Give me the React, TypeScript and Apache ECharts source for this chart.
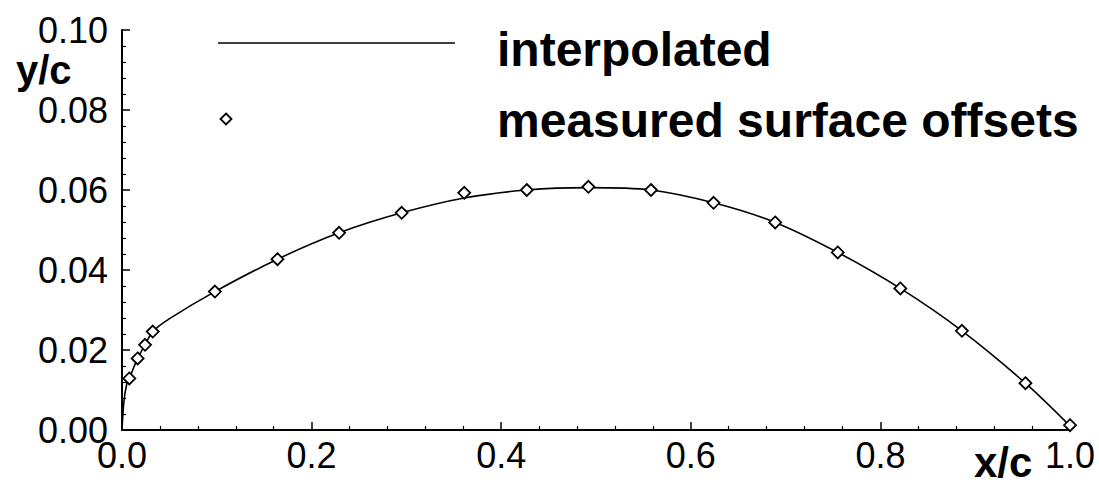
import React, { useEffect, useRef } from "react";
import * as echarts from "echarts";

// measured surface offsets (x/c, y/c)
const measuredX = [0.0077, 0.0165, 0.0243, 0.0324, 0.098, 0.164, 0.229, 0.295, 0.361, 0.427, 0.492, 0.558, 0.624, 0.689, 0.755, 0.821, 0.886, 0.953, 1.0];
const measuredY = [0.0129, 0.0179, 0.0213, 0.0246, 0.0346, 0.0427, 0.0493, 0.0543, 0.0593, 0.06, 0.0608, 0.06, 0.0568, 0.0519, 0.0444, 0.0354, 0.0248, 0.0117, 0.0012];

// interpolated curve
const curveX = [0, 0.002, 0.005, 0.0077, 0.0165, 0.0243, 0.0324, 0.0506, 0.098, 0.164, 0.229, 0.295, 0.361, 0.427, 0.492, 0.558, 0.624, 0.689, 0.755, 0.821, 0.886, 0.953, 1.0];
const curveY = [0, 0.007, 0.0115, 0.0129, 0.0179, 0.0213, 0.0246, 0.0279, 0.0346, 0.0427, 0.0493, 0.0543, 0.058, 0.06, 0.0606, 0.06, 0.0568, 0.0519, 0.0444, 0.0354, 0.0248, 0.0117, 0.001];

const xTickLabels = ["0.0", "0.2", "0.4", "0.6", "0.8", "1.0"];
const yTickLabels = ["0.00", "0.02", "0.04", "0.06", "0.08", "0.10"];
const legendNames = ["interpolated", "measured surface offsets"];
const axisNames = ["x/c", "y/c"];

const FONT = "'Liberation Sans', Arial, Helvetica, sans-serif";

export default function App() {
  const ref = useRef<HTMLDivElement>(null);
  useEffect(() => {
    if (!ref.current) return;
    const chart = echarts.init(ref.current, null, { renderer: "svg" });
    const axisCommon = {
      axisLine: { show: true, lineStyle: { color: "#000", width: 2 } },
      axisTick: { show: true, inside: true, length: 8, lineStyle: { color: "#000", width: 1.5 } },
      minorTick: { show: true, splitNumber: 5, length: 4, lineStyle: { color: "#000", width: 1.2 } },
      splitLine: { show: false },
      minorSplitLine: { show: false },
    };
    chart.setOption({
      animation: false,
      backgroundColor: "#fff",
      grid: { left: 122, right: 29, top: 30, bottom: 54 },
      xAxis: {
        type: "value",
        min: 0,
        max: 1,
        interval: 0.2,
        ...axisCommon,
        axisLabel: {
          color: "#000",
          fontFamily: FONT,
          fontSize: 36,
          margin: 7,
          formatter: (v: number) => xTickLabels[Math.round(v / 0.2)] ?? "",
        },
      },
      yAxis: {
        type: "value",
        min: 0,
        max: 0.1,
        interval: 0.02,
        ...axisCommon,
        axisLabel: {
          color: "#000",
          fontFamily: FONT,
          fontSize: 36,
          margin: 14,
          formatter: (v: number) => yTickLabels[Math.round(v / 0.02)] ?? "",
        },
      },
      series: [
        {
          name: legendNames[0],
          type: "line",
          data: curveX.map((x, i) => [x, curveY[i]]),
          showSymbol: false,
          symbol: "none",
          smooth: 0.3,
          lineStyle: { color: "#000", width: 1.6 },
          z: 2,
        },
        {
          name: legendNames[1],
          type: "scatter",
          data: measuredX.map((x, i) => [x, measuredY[i]]),
          symbol: "diamond",
          symbolSize: 12,
          itemStyle: { color: "#fff", borderColor: "#000", borderWidth: 1.8, opacity: 1 },
          emphasis: { disabled: true },
          z: 3,
        },
      ],
      graphic: [
        { type: "line", shape: { x1: 218, y1: 43, x2: 455, y2: 43 }, style: { stroke: "#000", lineWidth: 1.6 } },
        {
          type: "polygon",
          shape: { points: [[226, 113.5], [231.5, 119], [226, 124.5], [220.5, 119]] },
          style: { fill: "#fff", stroke: "#000", lineWidth: 1.8 },
        },
        {
          type: "text",
          x: 497,
          y: 49,
          style: { text: legendNames[0], font: `bold 48px ${FONT}`, fill: "#000", textVerticalAlign: "middle" },
        },
        {
          type: "text",
          x: 497,
          y: 120,
          style: { text: legendNames[1], font: `bold 48px ${FONT}`, fill: "#000", textVerticalAlign: "middle" },
        },
        {
          type: "text",
          x: 16,
          y: 70,
          style: { text: axisNames[1], font: `bold 40px ${FONT}`, fill: "#000", textVerticalAlign: "middle" },
        },
        {
          type: "text",
          x: 974,
          y: 462,
          style: { text: axisNames[0], font: `bold 42px ${FONT}`, fill: "#000", textVerticalAlign: "middle" },
        },
      ],
    });
    return () => chart.dispose();
  }, []);
  return (
    <div
      ref={ref}
      style={{ position: "fixed", left: 0, top: 0, width: 1099, height: 484, background: "#fff" }}
    />
  );
}
